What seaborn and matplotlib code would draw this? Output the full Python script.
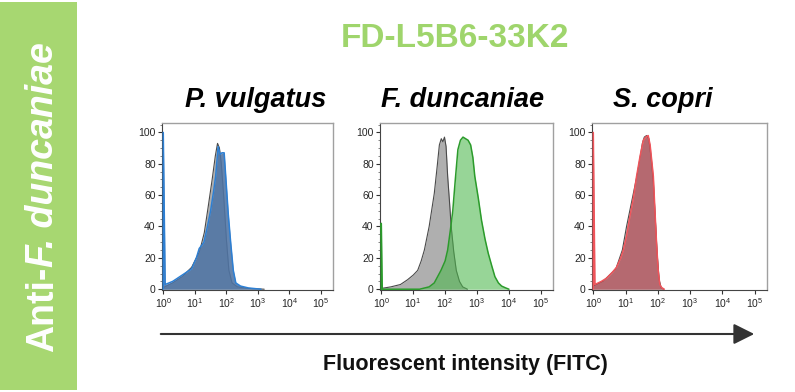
import numpy as np
import matplotlib
matplotlib.use("Agg")
import matplotlib.pyplot as plt
import seaborn as sns
from matplotlib.patches import Rectangle, FancyArrowPatch
from matplotlib.ticker import FixedLocator, FixedFormatter, LogLocator, MultipleLocator, NullFormatter

# panel names
strains = ["P. vulgatus", "F. duncaniae", "S. copri"]

# histograms: log10(FITC) vs % of max
pv_ctrl_log = [0.0, 0.3, 0.6, 0.9, 1.05, 1.15, 1.3, 1.42, 1.55, 1.65, 1.72, 1.78, 1.84, 1.92, 2.0, 2.08, 2.18, 2.35, 2.7, 3.2]
pv_ctrl_y = [1, 4, 8, 14, 20, 24, 36, 52, 70, 85, 93, 90, 80, 58, 32, 12, 4, 1.5, 0.5, 0]
pv_stain_log = [0.0, 0.0, 0.06, 0.3, 0.6, 0.9, 1.05, 1.14, 1.22, 1.29, 1.4, 1.5, 1.6, 1.66, 1.74, 1.8, 1.86,
                1.93, 1.98, 2.06, 2.14, 2.22, 2.3, 2.45, 2.7, 3.1]
pv_stain_y = [0, 100, 3, 5, 9, 13, 20, 26, 28, 30, 40, 50, 63, 72, 91, 86, 87, 87, 72, 48, 29, 12, 4, 2, 0.8, 0]

fd_ctrl_log = [0.0, 0.3, 0.6, 0.82, 1.0, 1.14, 1.25, 1.35, 1.5, 1.66, 1.75, 1.82, 1.88, 1.93, 1.98, 2.03,
               2.08, 2.14, 2.19, 2.27, 2.35, 2.45, 2.55, 2.7]
fd_ctrl_y = [0.5, 1.5, 3, 6, 9, 12, 18, 25, 40, 61, 78, 92, 96, 94, 97, 91, 72, 55, 40, 24, 12, 5, 1.5, 0]
fd_stain_log = [0.0, 0.0, 0.03, 1.2, 1.5, 1.66, 1.87, 2.0, 2.08, 2.16, 2.24, 2.32, 2.4, 2.48, 2.56, 2.64,
                2.72, 2.8, 2.87, 2.93, 3.04, 3.14, 3.25, 3.35, 3.46, 3.56, 3.67, 3.77, 3.9, 4.0]
fd_stain_y = [0, 42, 0, 0, 1.5, 4, 12, 18, 25, 37, 50, 70, 89, 95, 97, 96, 95, 92, 84, 72, 58, 44, 32, 23,
              15, 8, 4, 2, 0.8, 0]

sc_ctrl_log = [0.0, 0.3, 0.7, 0.9, 1.03, 1.15, 1.25, 1.35, 1.45, 1.52, 1.58, 1.65, 1.72, 1.8, 1.86, 1.92,
               1.98, 2.04, 2.1, 2.18]
sc_ctrl_y = [2, 5, 13, 25, 40, 52, 62, 72, 84, 93, 97, 98, 96, 82, 68, 45, 22, 6, 1, 0]
sc_stain_log = [0.0, 0.0, 0.05, 0.25, 0.41, 0.6, 0.72, 0.85, 0.93, 1.03, 1.13, 1.24, 1.34, 1.45, 1.55,
                1.62, 1.7, 1.76, 1.81, 1.86, 1.91, 1.96, 2.01, 2.06, 2.12, 2.2]
sc_stain_y = [0, 100, 3, 5, 7, 11, 14, 20, 25, 34, 46, 58, 72, 85, 95, 97, 98, 92, 82, 72, 50, 29, 12, 3, 1, 0]

y_ticks = [0, 20, 40, 60, 80, 100]
x_decades = [0, 1, 2, 3, 4, 5]
x_labels = ["$10^{%d}$" % d for d in x_decades]

sns.set_style("ticks")
plt.rcParams["font.family"] = ["Liberation Sans", "DejaVu Sans"]
plt.rcParams["mathtext.fontset"] = "custom"
plt.rcParams["mathtext.rm"] = "Liberation Sans"
plt.rcParams["mathtext.it"] = "Liberation Sans:italic"

W, H = 795, 392
fig = plt.figure(figsize=(W / 100, H / 100), dpi=100)

def fx(x):
    return x / W

def fy(y):
    return 1 - y / H

panels = [
    (strains[0], pv_ctrl_log, pv_ctrl_y, pv_stain_log, pv_stain_y, "#4f74a4", 0.88, "#2d7fd3", (162, 123, 333, 290)),
    (strains[1], fd_ctrl_log, fd_ctrl_y, fd_stain_log, fd_stain_y, "#4cb84c", 0.58, "#2b9b2b", (380, 123, 553, 290)),
    (strains[2], sc_ctrl_log, sc_ctrl_y, sc_stain_log, sc_stain_y, "#b84c56", 0.7, "#f0545a", (592, 123, 767, 290)),
]

for name, c_log, c_y, s_log, s_y, fill, alpha, edge, (l, t, r, b) in panels:
    ax = fig.add_axes([fx(l), fy(b), fx(r - l), (b - t) / H])
    ax.set_xscale("log")
    cx = np.power(10.0, c_log)
    sx = np.power(10.0, s_log)
    ax.fill_between(cx, c_y, color="#afafaf", lw=0, zorder=1)
    sns.lineplot(x=cx, y=c_y, ax=ax, color="#4a4a4a", lw=0.8, estimator=None, sort=False, zorder=2)
    ax.fill_between(sx, s_y, color=fill, alpha=alpha, lw=0, zorder=3)
    sns.lineplot(x=sx, y=s_y, ax=ax, color=edge, lw=1.1, estimator=None, sort=False, zorder=4)

    ax.set_xlim(10 ** -0.04, 10 ** 5.38)
    ax.set_ylim(-0.5, 106)
    ax.xaxis.set_major_locator(FixedLocator([10.0 ** d for d in x_decades]))
    ax.xaxis.set_major_formatter(FixedFormatter(x_labels))
    ax.xaxis.set_minor_locator(LogLocator(base=10, subs=np.arange(2, 10)))
    ax.xaxis.set_minor_formatter(NullFormatter())
    ax.yaxis.set_major_locator(FixedLocator(y_ticks))
    ax.yaxis.set_minor_locator(MultipleLocator(5))
    ax.tick_params(which="major", labelsize=7.5, length=3, width=0.8, color="#333333", pad=1.5)
    ax.tick_params(which="minor", length=1.5, width=0.5, color="#555555")
    ax.set_xlabel("")
    ax.set_ylabel("")
    for side in ["top", "right"]:
        ax.spines[side].set_color("#a0a0a0")
        ax.spines[side].set_linewidth(1.0)
    for side in ["left", "bottom"]:
        ax.spines[side].set_color("#444444")
        ax.spines[side].set_linewidth(0.8)

# headings
fig.text(fx(455), fy(47), "FD-L5B6-33K2", ha="center", va="baseline",
         fontsize=24, weight="bold", color="#9fd56c")
for name, xc in zip(strains, [256, 463, 663]):
    fig.text(fx(xc), fy(107), name, ha="center", va="baseline",
             fontsize=19.5, weight="bold", style="italic", color="black")

# axis arrow and label
arrow = FancyArrowPatch((fx(158), fy(334)), (fx(757), fy(334)), transform=fig.transFigure,
                        arrowstyle="-|>,head_length=0.9,head_width=0.45", mutation_scale=14,
                        color="#333333", lw=1.5)
fig.add_artist(arrow)
fig.text(fx(465), fy(370), "Fluorescent intensity (FITC)", ha="center", va="baseline",
         fontsize=15.5, weight="bold", color="#111111")

# green side bar
fig.add_artist(Rectangle((0, fy(390)), fx(77), 388 / H, transform=fig.transFigure,
                         color="#a7d771", lw=0, zorder=0))
t1 = fig.text(fx(53), fy(352), "Anti-", rotation=90, rotation_mode="anchor", ha="left",
              va="baseline", fontsize=27, weight="bold", color="white")
fig.canvas.draw()
bb = t1.get_window_extent()
fig.text(fx(53), bb.y1 / H, "F. duncaniae", rotation=90, rotation_mode="anchor", ha="left",
         va="baseline", fontsize=27, weight="bold", style="italic", color="white")

fig.savefig("out.png", dpi=100)
